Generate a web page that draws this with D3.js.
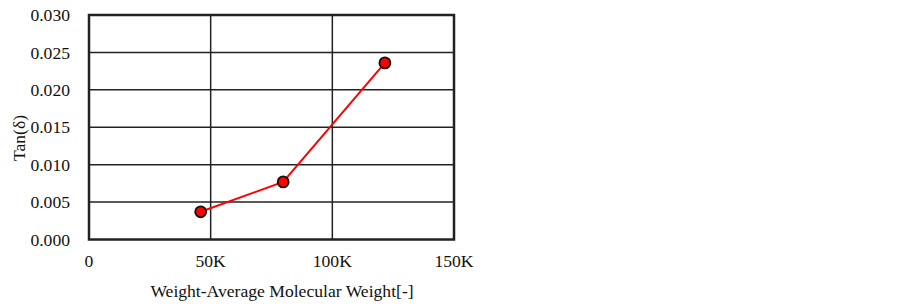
<!DOCTYPE html>
<html>
<head>
<meta charset="utf-8">
<script src="https://cdn.jsdelivr.net/npm/d3@7"></script>
<style>
  body { margin: 0; background: #fff; }
  text { font-family: "Liberation Serif", "Times New Roman", serif; fill: #111; }
</style>
</head>
<body>
<svg id="chart" width="903" height="306"></svg>
<script>
// data
var molWeight = [45900, 79800, 121600];
var tanDelta = [0.0037, 0.0077, 0.0236];
var xTicks = [0, 50000, 100000, 150000];
var xTickLabels = ["0", "50K", "100K", "150K"];
var yTicks = [0, 0.005, 0.01, 0.015, 0.02, 0.025, 0.03];

var margin = { left: 89, top: 15, right: 454, bottom: 239.5 };
var fontSize = "17.6px";

var svg = d3.select("#chart");

var x = d3.scaleLinear().domain([0, 150000]).range([margin.left, margin.right]);
var y = d3.scaleLinear().domain([0, 0.03]).range([margin.bottom, margin.top]);

// grid
svg.append("g").selectAll("line")
  .data(yTicks.slice(1, -1))
  .enter().append("line")
  .attr("x1", margin.left).attr("x2", margin.right)
  .attr("y1", function (d) { return y(d); })
  .attr("y2", function (d) { return y(d); })
  .attr("stroke", "#222").attr("stroke-width", 1.5);

svg.append("g").selectAll("line")
  .data(xTicks.slice(1, -1))
  .enter().append("line")
  .attr("y1", margin.top).attr("y2", margin.bottom)
  .attr("x1", function (d) { return x(d); })
  .attr("x2", function (d) { return x(d); })
  .attr("stroke", "#222").attr("stroke-width", 1.5);

// frame
svg.append("rect")
  .attr("x", margin.left).attr("y", margin.top)
  .attr("width", margin.right - margin.left)
  .attr("height", margin.bottom - margin.top)
  .attr("fill", "none").attr("stroke", "#222").attr("stroke-width", 2.5);

// y tick labels
svg.append("g").selectAll("text")
  .data(yTicks)
  .enter().append("text")
  .attr("x", 70)
  .attr("y", function (d) { return y(d); })
  .attr("dy", "0.35em")
  .attr("text-anchor", "end")
  .style("font-size", fontSize)
  .text(function (d) { return d3.format(".3f")(d); });

// x tick labels
svg.append("g").selectAll("text")
  .data(xTicks)
  .enter().append("text")
  .attr("x", function (d) { return x(d); })
  .attr("y", 267)
  .attr("text-anchor", "middle")
  .style("font-size", fontSize)
  .text(function (d, i) { return xTickLabels[i]; });

// axis titles
svg.append("text")
  .attr("x", 282).attr("y", 297)
  .attr("text-anchor", "middle")
  .style("font-size", fontSize)
  .text("Weight-Average Molecular Weight[-]");

svg.append("text")
  .attr("transform", "translate(25,138) rotate(-90)")
  .attr("text-anchor", "middle")
  .style("font-size", fontSize)
  .text("Tan(\u03b4)");

// series
var line = d3.line()
  .x(function (d, i) { return x(molWeight[i]); })
  .y(function (d) { return y(d); });

svg.append("path")
  .datum(tanDelta)
  .attr("d", line)
  .attr("fill", "none")
  .attr("stroke", "#ff0000")
  .attr("stroke-width", 2);

svg.append("g").selectAll("circle")
  .data(tanDelta)
  .enter().append("circle")
  .attr("cx", function (d, i) { return x(molWeight[i]); })
  .attr("cy", function (d) { return y(d); })
  .attr("r", 5.5)
  .attr("fill", "#ff0000")
  .attr("stroke", "#111")
  .attr("stroke-width", 1.8);
</script>
</body>
</html>
